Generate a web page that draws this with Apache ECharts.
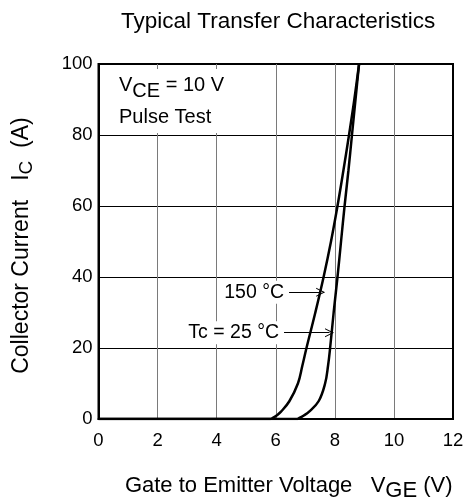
<!DOCTYPE html>
<html><head><meta charset="utf-8">
<script src="https://cdn.jsdelivr.net/npm/echarts@6/dist/echarts.min.js"></script>
<style>html,body{margin:0;padding:0;background:#fff}#c{width:466px;height:502px}</style>
</head><body><div id="c"></div>
<script>
// Data
const vge150 = [0, 5.8, 5.9, 6.03, 6.17, 6.46, 6.75, 6.9, 7.04, 7.34, 7.62, 7.87, 8.09, 8.29, 8.48, 8.66, 8.82];
const ic150  = [0, 0, 0.3, 1, 2, 5, 10, 15, 20, 30, 40, 50, 60, 70, 80, 90, 100];
const vge25  = [0, 6.7, 6.8, 6.95, 7.12, 7.45, 7.67, 7.77, 7.84, 7.96, 8.09, 8.21, 8.33, 8.46, 8.58, 8.70, 8.82];
const ic25   = [0, 0, 0.3, 1, 2, 5, 10, 15, 20, 30, 40, 50, 60, 70, 80, 90, 100];
const xRange = [0, 12, 2];
const yRange = [0, 100, 20];
// annotation arrows: [xStart, xEnd, y]
const arrow150 = [6.45, 7.52, 35.7];
const arrow25  = [6.28, 7.82, 24.3];

const FONT = 'Liberation Sans, Arial, sans-serif';
const pairs = (xs, ys) => xs.map((x, i) => [x, ys[i]]);
const chevron = 'path://M0,10 L5,0 L10,10 L8.8,10 L5,2.4 L1.2,10 Z';

function arrowLine(a, text) {
  return {
    silent: true,
    symbol: ['none', chevron],
    symbolSize: [9, 9],
    lineStyle: { color: '#000', width: 1, type: 'solid' },
    label: {
      show: true, position: 'start', formatter: text, distance: 4,
      color: '#000', fontFamily: FONT, fontSize: 19.5,
      backgroundColor: '#fff', padding: [2, 1, 1, 2]
    },
    data: [[{ coord: [a[0], a[2]] }, { coord: [a[1], a[2]] }]]
  };
}

const chart = echarts.init(document.getElementById('c'), null, { renderer: 'canvas' });
chart.setOption({
  animation: false,
  backgroundColor: '#fff',
  title: [
    { text: 'Typical Transfer Characteristics', left: 116, top: 5,
      textStyle: { fontFamily: FONT, fontSize: 22.5, fontWeight: 'normal', color: '#000' } },
    { text: 'V{sub|CE} = 10 V\nPulse Test', left: 100, top: 69,
      backgroundColor: '#fff', padding: [0, 6, 0, 19],
      textStyle: { fontFamily: FONT, fontSize: 20, fontWeight: 'normal', color: '#000', lineHeight: 32,
        rich: { sub: { fontFamily: FONT, fontSize: 20, color: '#000', lineHeight: 20, padding: [12, 0, 0, 0] } } } }
  ],
  grid: { left: 98.5, right: 13, top: 64, bottom: 83, outerBoundsMode: 'none', containLabel: false,
    show: true, borderColor: '#000', borderWidth: 2, backgroundColor: 'transparent' },
  xAxis: {
    type: 'value', min: xRange[0], max: xRange[1], interval: xRange[2],
    axisLine: { show: true, lineStyle: { color: '#000', width: 2 } },
    axisTick: { show: false },
    axisLabel: { color: '#000', fontFamily: FONT, fontSize: 18.5, margin: 12 },
    splitLine: { show: true, showMinLine: false, showMaxLine: false, lineStyle: { color: '#7a7a7a', width: 1 } },
    name: 'Gate to Emitter Voltage   V{sub|GE} (V)', nameLocation: 'middle', nameGap: 53,
    nameTextStyle: { color: '#000', fontFamily: FONT, fontSize: 22, padding: [0, 0, 0, 26], lineHeight: 28,
      rich: { sub: { fontFamily: FONT, fontSize: 22, color: '#000', lineHeight: 22, padding: [10, 0, 0, 0] } } }
  },
  yAxis: {
    type: 'value', min: yRange[0], max: yRange[1], interval: yRange[2],
    axisLine: { show: true, lineStyle: { color: '#000', width: 2 } },
    axisTick: { show: false },
    axisLabel: { color: '#000', fontFamily: FONT, fontSize: 18.5, margin: 6 },
    splitLine: { show: true, showMinLine: false, showMaxLine: false, lineStyle: { color: '#000', width: 1 } },
    name: 'Collector Current   I{sub|C}  (A)', nameLocation: 'middle', nameGap: 63, nameRotate: 90,
    nameTextStyle: { color: '#000', fontFamily: FONT, fontSize: 23, lineHeight: 28, padding: [0, 8, 0, 0],
      rich: { sub: { fontFamily: FONT, fontSize: 19, color: '#000', lineHeight: 19, padding: [10, 0, 0, 0] } } }
  },
  series: [
    { name: '150 °C', type: 'line', data: pairs(vge150, ic150), showSymbol: false, symbol: 'none',
      smooth: 0.4, lineStyle: { color: '#000', width: 2.5 }, z: 3,
      markLine: arrowLine(arrow150, '150 °C') },
    { name: 'Tc = 25 °C', type: 'line', data: pairs(vge25, ic25), showSymbol: false, symbol: 'none',
      smooth: 0.4, lineStyle: { color: '#000', width: 2.5 }, z: 3,
      markLine: arrowLine(arrow25, 'Tc = 25 °C') }
  ]
});
</script></body></html>
